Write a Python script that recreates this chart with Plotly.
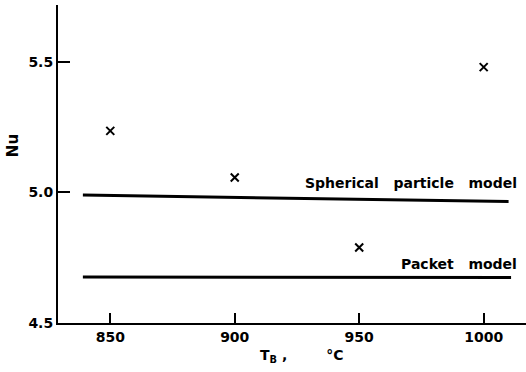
import plotly.graph_objects as go

# Data
temps = [850, 900, 950, 1000]
nu_measured = [5.236, 5.057, 4.789, 5.48]

spherical_x = [839, 1010]
spherical_y = [4.99, 4.965]
packet_x = [839, 1011]
packet_y = [4.676, 4.674]

x_ticks = [850, 900, 950, 1000]
y_ticks = [4.5, 5.0, 5.5]
y_tick_labels = ["4.5", "5.0", "5.5"]

FONT = "DejaVu Sans"
BOLD = dict(family=FONT, color="black", weight="bold")

fig = go.Figure()
fig.add_trace(go.Scatter(x=spherical_x, y=spherical_y, mode="lines",
                         line=dict(color="black", width=3), showlegend=False))
fig.add_trace(go.Scatter(x=packet_x, y=packet_y, mode="lines",
                         line=dict(color="black", width=3), showlegend=False))
fig.add_trace(go.Scatter(x=temps, y=nu_measured, mode="markers",
                         marker=dict(symbol="x-thin", size=8, line=dict(color="black", width=2)),
                         showlegend=False))

fig.add_annotation(x=1014, y=4.99, xref="x", yref="y", text="Spherical   particle   model",
                   showarrow=False, xanchor="right", yanchor="bottom", yshift=2,
                   font=dict(size=14, **BOLD))
fig.add_annotation(x=1014, y=4.676, xref="x", yref="y", text="Packet   model",
                   showarrow=False, xanchor="right", yanchor="bottom", yshift=3,
                   font=dict(size=14, **BOLD))
fig.add_annotation(x=927, y=0, xref="x", yref="paper", text="T<sub>B</sub> ,        °C",
                   showarrow=False, xanchor="center", yanchor="top", yshift=-22,
                   font=dict(size=14, **BOLD))
fig.add_annotation(x=-0.097, y=0.558, xref="paper", yref="paper", text="Nu",
                   showarrow=False, xanchor="center", yanchor="middle", textangle=-90,
                   font=dict(size=15, **BOLD))

fig.update_layout(
    width=526, height=372,
    margin=dict(l=58, r=0, t=5, b=49),
    paper_bgcolor="white", plot_bgcolor="white",
    font=dict(family=FONT, size=13, color="black"),
)
fig.update_xaxes(range=[829, 1017], tickvals=x_ticks, ticks="inside", ticklen=10,
                 tickwidth=1.5, tickcolor="black", showline=True, linecolor="black",
                 linewidth=2, showgrid=False, zeroline=False,
                 tickfont=dict(size=14, **BOLD))
fig.update_yaxes(range=[4.5, 5.718], tickvals=y_ticks, ticktext=y_tick_labels,
                 ticks="inside", ticklen=12, tickwidth=1.5, tickcolor="black",
                 showline=True, linecolor="black", linewidth=2, showgrid=False,
                 zeroline=False, tickfont=dict(size=14, **BOLD))

fig.write_html("out.html")
